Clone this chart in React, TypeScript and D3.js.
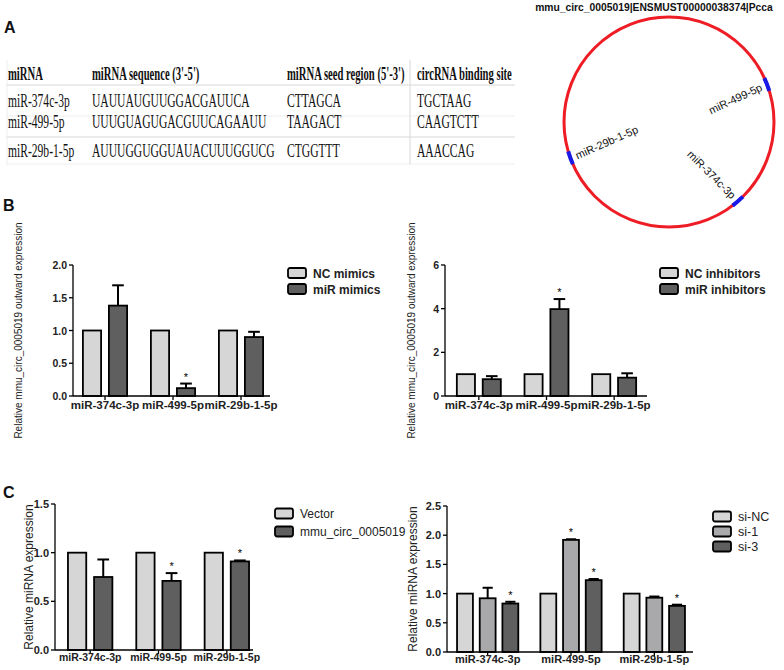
import React from "react";
import * as d3 from "d3";

const SANS = "'Liberation Sans', Arial, sans-serif";
const SERIF = "'Liberation Serif', 'Times New Roman', serif";

// ---- table (panel A) ----
const tableHeaders = ["miRNA", "miRNA sequence (3'-5')", "miRNA seed region (5'-3')", "circRNA binding site"];
const tableMirnas = ["miR-374c-3p", "miR-499-5p", "miR-29b-1-5p"];
const tableSequences = ["UAUUAUGUUGGACGAUUCA", "UUUGUAGUGACGUUCAGAAUU", "AUUUGGUGGUAUACUUUGGUCG"];
const tableSeeds = ["CTTAGCA", "TAAGACT", "CTGGTTT"];
const tableSites = ["TGCTAAG", "CAAGTCTT", "AAACCAG"];

// ---- circRNA map ----
const circTitle = "mmu_circ_0005019|ENSMUST00000038374|Pcca";
const siteNames = ["miR-499-5p", "miR-29b-1-5p", "miR-374c-3p"];
const siteAngles = [69, 250, 139]; // degrees clockwise from 12 o'clock

// ---- bar charts ----
const categories = ["miR-374c-3p", "miR-499-5p", "miR-29b-1-5p"];

const ncMimics = [1, 1, 1];
const mirMimics = [1.38, 0.12, 0.9];
const mirMimicsErr = [0.31, 0.07, 0.08];
const mirMimicsStar = [false, true, false];

const ncInhibitors = [1, 1, 1];
const mirInhibitors = [0.77, 3.98, 0.84];
const mirInhibitorsErr = [0.14, 0.46, 0.2];
const mirInhibitorsStar = [false, true, false];

const vector = [1, 1, 1];
const circOe = [0.75, 0.71, 0.91];
const circOeErr = [0.18, 0.08, 0.01];
const circOeStar = [false, true, true];

const siNC = [1, 1, 1];
const si1 = [0.92, 1.92, 0.93];
const si1Err = [0.18, 0.01, 0.02];
const si1Star = [false, true, false];
const si3 = [0.83, 1.23, 0.79];
const si3Err = [0.03, 0.02, 0.02];
const si3Star = [true, true, true];

const zeros = [0, 0, 0];
const noStar = [false, false, false];

const LIGHT = "#d6d6d6";
const MID = "#a9a9ab";
const DARK = "#5f5f5f";

function BarPanel(p) {
  const y = d3.scaleLinear().domain([0, p.yMax]).range([p.bottom, p.top]);
  const x0 = d3
    .scaleBand()
    .domain(categories)
    .range([p.bandLeft, p.bandRight])
    .paddingInner(p.groupPad)
    .paddingOuter(p.groupPad / 2);
  const x1 = d3
    .scaleBand()
    .domain(p.series.map((s) => s.name))
    .range([0, x0.bandwidth()])
    .paddingInner(0.3);
  const bw = x1.bandwidth();
  const midY = (p.top + p.bottom) / 2;

  return (
    <g fontFamily={SANS}>
      {/* bars */}
      {categories.map((c, i) => (
        <g key={c} transform={`translate(${x0(c)},0)`}>
          {p.series.map((s) => {
            const bx = x1(s.name);
            const v = s.values[i];
            const e = s.errors[i];
            const errTop = y(v + e);
            return (
              <g key={s.name}>
                {e > 0 && (
                  <g stroke="#000" strokeWidth={2}>
                    <line x1={bx + bw / 2} x2={bx + bw / 2} y1={y(v)} y2={errTop} />
                    <line x1={bx + bw / 2 - bw * 0.32} x2={bx + bw / 2 + bw * 0.32} y1={errTop} y2={errTop} />
                  </g>
                )}
                <rect
                  x={bx}
                  y={y(v)}
                  width={bw}
                  height={y(0) - y(v)}
                  fill={s.fill}
                  stroke="#000"
                  strokeWidth={1.8}
                />
                {s.stars[i] && (
                  <text x={bx + bw / 2} y={errTop - 3} fontSize={11} textAnchor="middle">
                    *
                  </text>
                )}
              </g>
            );
          })}
        </g>
      ))}
      {/* axes */}
      <g stroke="#000" strokeWidth={1.3}>
        <line x1={p.left} x2={p.left} y1={p.top} y2={p.bottom} />
        <line x1={p.left} x2={p.right} y1={p.bottom} y2={p.bottom} />
        {p.yTicks.map((t) => (
          <line key={t} x1={p.left - 4} x2={p.left} y1={y(t)} y2={y(t)} />
        ))}
        {categories.map((c) => (
          <line key={c} x1={x0(c) + x0.bandwidth() / 2} x2={x0(c) + x0.bandwidth() / 2} y1={p.bottom} y2={p.bottom + 4} />
        ))}
      </g>
      {p.yTicks.map((t) => (
        <text
          key={t}
          x={p.left - 6}
          y={y(t) + 4}
          fontSize={p.tickSize}
          fontWeight="bold"
          textAnchor="end"
          fill="#222"
        >
          {d3.format(p.tickFmt)(t)}
        </text>
      ))}
      {categories.map((c) => (
        <text
          key={c}
          x={x0(c) + x0.bandwidth() / 2}
          y={p.bottom + p.xLabelDy}
          fontSize={p.xLabelSize}
          fontWeight="bold"
          textAnchor="middle"
          fill="#222"
        >
          {c}
        </text>
      ))}
      <text
        transform={`translate(${p.titleX},${midY}) rotate(-90)`}
        fontSize={p.titleSize}
        textAnchor="middle"
        fill="#222"
      >
        {p.title}
      </text>
      {/* legend */}
      {p.series.map((s, i) => (
        <g key={s.name} transform={`translate(${p.legendX},${p.legendY + i * p.legendGap})`}>
          <rect x={0} y={-5} width={18} height={10} rx={2} fill={s.fill} stroke="#000" strokeWidth={1.8} />
          <text x={25} y={4.5} fontSize={p.legendSize} fontWeight={p.legendWeight} fill="#222">
            {s.name}
          </text>
        </g>
      ))}
    </g>
  );
}

function Table() {
  const colX = [8, 92, 287, 417];
  const rowY = [107, 128, 157];
  const rows = tableMirnas.map((m, i) => [m, tableSequences[i], tableSeeds[i], tableSites[i]]);
  return (
    <g fontFamily={SERIF} fill="#111">
      <g stroke="#d8d8d8" strokeWidth={1}>
        <line x1={6} x2={515} y1={85} y2={85} />
        <line x1={6} x2={515} y1={116} y2={116} stroke="#eeeeee" />
        <line x1={6} x2={515} y1={137} y2={137} />
        <line x1={6} x2={515} y1={164} y2={164} stroke="#eeeeee" />
        <line x1={410} x2={410} y1={60} y2={164} />
        <line x1={7} x2={7} y1={60} y2={164} stroke="#eeeeee" />
      </g>
      {tableHeaders.map((h, j) => (
        <text
          key={h}
          transform={`translate(${colX[j]},80) scale(0.56,1)`}
          fontSize={19}
          fontWeight="bold"
        >
          {h}
        </text>
      ))}
      {rows.map((r, i) =>
        r.map((cell, j) => (
          <text key={i + "-" + j} transform={`translate(${colX[j]},${rowY[i]}) scale(0.61,1)`} fontSize={19}>
            {cell}
          </text>
        ))
      )}
    </g>
  );
}

function CircMap() {
  const cx = 669;
  const cy = 122;
  const r = 105;
  const arc = d3.arc();
  return (
    <g fontFamily={SANS}>
      <text x={654} y={11} fontSize={10.3} fontWeight="bold" textAnchor="middle" fill="#111">
        {circTitle}
      </text>
      <circle cx={cx} cy={cy} r={r} fill="none" stroke="#ee1c24" strokeWidth={3} />
      {siteNames.map((name, i) => {
        const a = (siteAngles[i] * Math.PI) / 180;
        const d = arc({ innerRadius: r - 2, outerRadius: r + 2, startAngle: a - 0.065, endAngle: a + 0.065 });
        // screen angle of the radius
        const theta = siteAngles[i] - 90;
        const left = Math.cos((theta * Math.PI) / 180) < 0;
        const rr = r - 6;
        const tx = cx + rr * Math.cos((theta * Math.PI) / 180);
        const ty = cy + rr * Math.sin((theta * Math.PI) / 180);
        const rot = left ? theta - 180 : theta;
        return (
          <g key={name}>
            <path d={d} transform={`translate(${cx},${cy})`} fill="#1a1ae6" />
            <text
              transform={`translate(${tx},${ty}) rotate(${rot - 4})`}
              dy={4}
              fontSize={11}
              textAnchor={left ? "start" : "end"}
              fill="#111"
            >
              {name}
            </text>
          </g>
        );
      })}
    </g>
  );
}

export default function App() {
  return (
    <svg width={784} height={670} style={{ position: "absolute", left: 0, top: 0, background: "#fff" }}>
      <rect width={784} height={670} fill="#fff" />
      <g fontFamily={SANS} fontWeight="bold" fontSize={16} fill="#111">
        <text x={4} y={33}>A</text>
        <text x={3} y={211}>B</text>
        <text x={3} y={498}>C</text>
      </g>
      <Table />
      <CircMap />
      <BarPanel
        series={[
          { name: "NC mimics", fill: LIGHT, values: ncMimics, errors: zeros, stars: noStar },
          { name: "miR mimics", fill: DARK, values: mirMimics, errors: mirMimicsErr, stars: mirMimicsStar },
        ]}
        yMax={2}
        yTicks={[0, 0.5, 1, 1.5, 2]}
        tickFmt=".1f"
        tickSize={10.5}
        left={73}
        right={270}
        top={265}
        bottom={396}
        bandLeft={71}
        bandRight={275}
        groupPad={0.35}
        xLabelDy={13}
        xLabelSize={11.5}
        title="Relative mmu_circ_0005019 outward expression"
        titleX={22}
        titleSize={10}
        legendX={288}
        legendY={273}
        legendGap={16}
        legendSize={12}
        legendWeight="bold"
      />
      <BarPanel
        series={[
          { name: "NC inhibitors", fill: LIGHT, values: ncInhibitors, errors: zeros, stars: noStar },
          { name: "miR inhibitors", fill: DARK, values: mirInhibitors, errors: mirInhibitorsErr, stars: mirInhibitorsStar },
        ]}
        yMax={6}
        yTicks={[0, 2, 4, 6]}
        tickFmt="d"
        tickSize={10.5}
        left={445}
        right={647}
        top={265}
        bottom={396}
        bandLeft={445}
        bandRight={648}
        groupPad={0.35}
        xLabelDy={13}
        xLabelSize={11.5}
        title="Relative mmu_circ_0005019 outward expression"
        titleX={415}
        titleSize={10}
        legendX={660}
        legendY={273}
        legendGap={16}
        legendSize={12}
        legendWeight="bold"
      />
      <BarPanel
        series={[
          { name: "Vector", fill: LIGHT, values: vector, errors: zeros, stars: noStar },
          { name: "mmu_circ_0005019", fill: DARK, values: circOe, errors: circOeErr, stars: circOeStar },
        ]}
        yMax={1.5}
        yTicks={[0, 0.5, 1, 1.5]}
        tickFmt=".1f"
        tickSize={11}
        left={55}
        right={253}
        top={504}
        bottom={650}
        bandLeft={56}
        bandRight={261}
        groupPad={0.35}
        xLabelDy={11}
        xLabelSize={10.5}
        title="Relative miRNA expression"
        titleX={33}
        titleSize={12}
        legendX={275}
        legendY={513.5}
        legendGap={18}
        legendSize={12}
        legendWeight="normal"
      />
      <BarPanel
        series={[
          { name: "si-NC", fill: LIGHT, values: siNC, errors: zeros, stars: noStar },
          { name: "si-1", fill: MID, values: si1, errors: si1Err, stars: si1Star },
          { name: "si-3", fill: DARK, values: si3, errors: si3Err, stars: si3Star },
        ]}
        yMax={2.5}
        yTicks={[0, 0.5, 1, 1.5, 2, 2.5]}
        tickFmt=".1f"
        tickSize={11}
        left={447}
        right={693}
        top={506}
        bottom={652}
        bandLeft={446}
        bandRight={696}
        groupPad={0.265}
        xLabelDy={11}
        xLabelSize={11}
        title="Relative miRNA expression"
        titleX={417}
        titleSize={12}
        legendX={713}
        legendY={516.5}
        legendGap={15}
        legendSize={12.5}
        legendWeight="normal"
      />
    </svg>
  );
}
